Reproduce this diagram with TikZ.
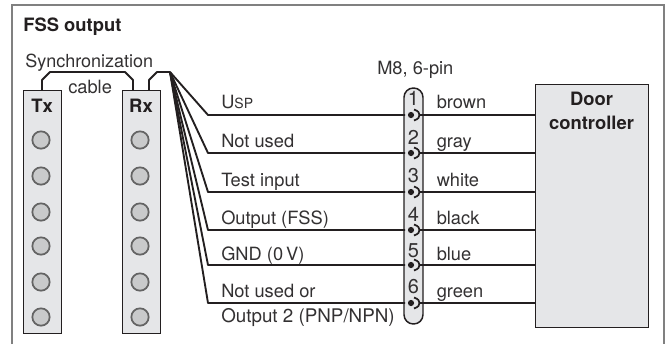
\documentclass[tikz,border=0pt]{standalone}
\usepackage{fontspec}
\setmainfont{TeX Gyre Heros}
\definecolor{ink}{HTML}{231F20}
\definecolor{txt}{HTML}{333132}
\definecolor{panel}{HTML}{E5E6E8}
\definecolor{frame}{HTML}{808080}
\definecolor{ledfill}{HTML}{C9CACB}
\definecolor{ledline}{HTML}{646464}
\newcommand{\tfont}{\fontsize{13.7pt}{16pt}\selectfont}
\tikzset{
  panelbox/.style={draw=ink,fill=panel,line width=1.1pt,minimum width=28.5pt,minimum height=182pt,inner sep=0pt,anchor=north west},
  ledmark/.style={circle,draw=ledline,fill=ledfill,line width=1.3pt,minimum size=13pt,inner sep=0pt},
  wire/.style={draw=ink,line width=1.4pt,line join=round},
  lbl/.style={inner sep=0pt,anchor=base west,text=txt,font=\tfont},
  headlbl/.style={inner sep=0pt,anchor=base,text=ink,font=\fontsize{13.8pt}{16pt}\selectfont\bfseries,align=center},
}
\begin{document}
\begin{tikzpicture}[x=0.75pt,y=-0.75pt]
\useasboundingbox (0,0) rectangle (665,344);
\fill[white] (0,0) rectangle (665,344);
\draw[frame,line width=1.3pt] (12,344) -- (12,5) -- (664,5) -- (664,344);
\node[headlbl,anchor=base west] (title) at (23,31) {FSS output};
% emitter and receiver strips
\node[panelbox] (tx) at (23,90) {};
\node[panelbox] (rx) at (122,90) {};
\node[headlbl] (txl) at (42,112) {Tx};
\node[headlbl] (rxl) at (141,112) {Rx};
\foreach \n/\y in {1/140,2/176,3/212,4/246,5/282,6/317}{
  \node[ledmark] (ta\n) at (41,\y) {};
  \node[ledmark] (ra\n) at (140,\y) {};
}
% synchronization cable
\node[lbl,font=\fontsize{13.5pt}{16pt}\selectfont] (sync) at (25,67) {Synchronization};
\node[lbl] (cable) at (68,93) {cable};
\coordinate (ca) at (42,90);
\coordinate (cb) at (133,90);
\coordinate (cc) at (149,90);
\coordinate (fan) at (170,72);
\draw[wire] (ca) -- (42,80) -- (50,72) -- (125,72) -- (133,80) -- (cb);
\draw[wire] (cc) -- (149,80) -- (157,72) -- (fan);
% connector
\node (m8) [lbl] at (377,74) {M8, 6-pin};
\draw[draw=ink,fill=panel,line width=1.1pt,rounded corners=7pt] (404,88) rectangle (423,324);
\node[draw=ink,fill=panel,line width=1.1pt,minimum width=84.75pt,minimum height=182.25pt,inner sep=0pt,anchor=north west] (door) at (535,84) {};
\node[headlbl,anchor=north] (doorl) at (591.5,92) {Door\\[2pt]controller};
% wires and pins
\foreach \n/\y/\by/\lb/\num/\ny/\col in {
  1/115/108/{U{\fontsize{10.5pt}{12pt}\selectfont SP}}/1/105/brown,
  2/153/147/{Not used}/2/144/gray,
  3/192/186/{Test input}/3/182/white,
  4/230/224/{Output (FSS)}/4/221/black,
  5/265/260/{GND (0\,V)}/5/257/blue,
  6/303/297/{Not used or}/6/293/green}{
  \coordinate (pl\n) at (405,\y);
  \coordinate (pr\n) at (419,\y);
  \coordinate (dr\n) at (535,\y);
  \draw[wire] (fan) -- (208,\y) -- (pl\n);
  \draw[wire] (pr\n) -- (dr\n);
  \fill[ink] (411,\y) circle (3.1);
  \draw[ink,line width=1.3pt] (414,\y-5.5) .. controls (418.5,\y-4) and (419.5,\y-2) .. (419.5,\y) .. controls (419.5,\y+2) and (418.5,\y+4) .. (414,\y+5.5);
  \node[lbl] (w\n) at (221,\by) {\lb};
  \node[lbl,anchor=base,font=\fontsize{15pt}{17pt}\selectfont] (num\n) at (413.5,\ny) {\num};
  \node[lbl] (c\n) at (436.5,\by) {\col};
}
\node[lbl,font=\fontsize{14.1pt}{16pt}\selectfont] (w7) at (221,322) {Output 2 (PNP/NPN)};
\end{tikzpicture}
\end{document}
